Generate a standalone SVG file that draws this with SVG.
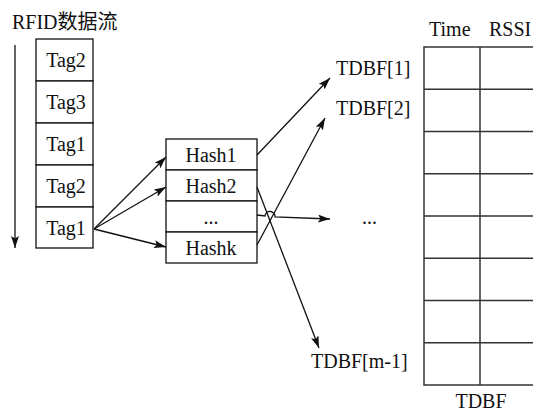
<svg xmlns="http://www.w3.org/2000/svg" width="533" height="413" viewBox="0 0 533 413">
  <style>
    text { font-family: "Liberation Serif", "Times New Roman", Tinos, "Noto Sans CJK SC", serif; font-size: 20px; fill: #111; }
    .c { text-anchor: middle; }
    .box { fill: #fff; stroke: #111; stroke-width: 1.3; }
    .grid { fill: none; stroke: #333; stroke-width: 1.5; }
    .edge { fill: none; stroke: #111; stroke-width: 1.3; }
  </style>
  <defs>
    <marker id="arrow" viewBox="0 0 12 8" refX="12" refY="4" markerWidth="12" markerHeight="8" markerUnits="userSpaceOnUse" orient="auto">
      <path d="M0,0 L12,4 L0,8 L2.5,4 Z" fill="#111"/>
    </marker>
  </defs>
  <rect width="533" height="413" fill="#fff"/>

  <!-- stream of tag readings -->
  <g id="stream">
    <text x="12" y="29">RFID数据流</text>
    <line class="edge" x1="15" y1="45" x2="15" y2="248" marker-end="url(#arrow)"/>
    <rect class="box" x="36" y="39" width="57" height="42"/>
    <rect class="box" x="36" y="81" width="57" height="42"/>
    <rect class="box" x="36" y="123" width="57" height="42"/>
    <rect class="box" x="36" y="165" width="57" height="42"/>
    <rect class="box" x="36" y="207" width="57" height="41"/>
    <text class="c" x="66" y="67">Tag2</text>
    <text class="c" x="66" y="109">Tag3</text>
    <text class="c" x="66" y="151">Tag1</text>
    <text class="c" x="66" y="193">Tag2</text>
    <text class="c" x="66" y="235">Tag1</text>
  </g>

  <!-- hash functions -->
  <g id="hashes">
    <rect class="box" x="166" y="139" width="91" height="31"/>
    <rect class="box" x="166" y="170" width="91" height="31"/>
    <rect class="box" x="166" y="201" width="91" height="31"/>
    <rect class="box" x="166" y="232" width="91" height="31"/>
    <text class="c" x="211" y="162">Hash1</text>
    <text class="c" x="211" y="193">Hash2</text>
    <text class="c" x="211" y="224">...</text>
    <text class="c" x="211" y="255">Hashk</text>
  </g>

  <!-- TDBF labels -->
  <g id="labels">
    <text x="336" y="75">TDBF[1]</text>
    <text x="336" y="115">TDBF[2]</text>
    <text x="362" y="224">...</text>
    <text x="311" y="368">TDBF[m-1]</text>
  </g>

  <!-- TDBF table -->
  <g id="tdbf">
    <text x="429" y="36">Time</text>
    <text x="489" y="36">RSSI</text>
    <path class="grid" d="M540,47 H424 V385 H540 M480,47 V385
      M424,89.3 H540 M424,131.5 H540 M424,173.8 H540 M424,216 H540
      M424,258.3 H540 M424,300.5 H540 M424,342.8 H540"/>
    <text class="c" x="481" y="408">TDBF</text>
  </g>

  <g id="connectors">
    <line class="edge" x1="94" y1="229" x2="166" y2="157" marker-end="url(#arrow)"/>
    <line class="edge" x1="94" y1="229" x2="166" y2="187" marker-end="url(#arrow)"/>
    <line class="edge" x1="94" y1="229" x2="166" y2="247" marker-end="url(#arrow)"/>
    <line class="edge" x1="257" y1="155" x2="330" y2="78" marker-end="url(#arrow)"/>
    <line class="edge" x1="257" y1="245" x2="325" y2="118" marker-end="url(#arrow)"/>
    <line class="edge" x1="257" y1="187" x2="319" y2="348" marker-end="url(#arrow)"/>
    <path class="edge" d="M257,215 L265,216 A5,5 0 0 1 275,217 L330,219" marker-end="url(#arrow)"/>
  </g>
</svg>
